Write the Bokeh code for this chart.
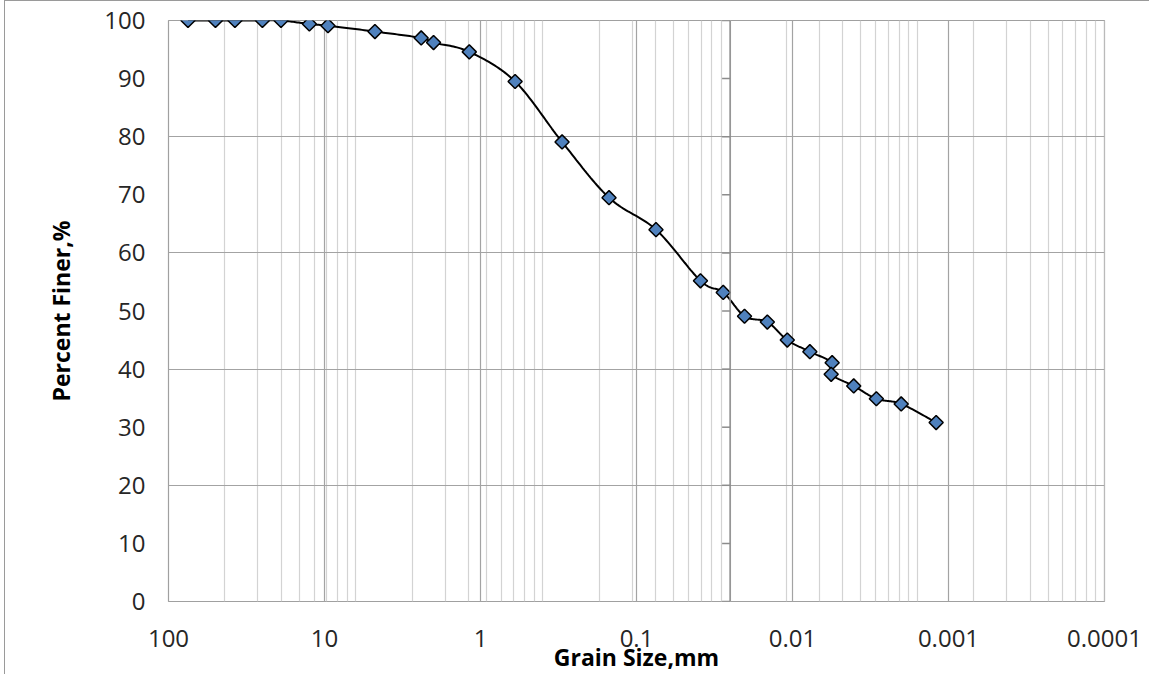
import math
import numpy as np
from bokeh.plotting import figure
from bokeh.models import Range1d, FixedTicker, CustomJSTickFormatter, Span
from bokeh.embed import file_html
from bokeh.resources import INLINE

# ---- data ----
grain_size_mm = [75, 50, 37.5, 25, 19, 12.5, 9.5, 4.75, 2.4, 2.0, 1.18, 0.6, 0.3,
                 0.15, 0.075, 0.0389, 0.0278, 0.0203, 0.0145, 0.0108, 0.00774,
                 0.00557, 0.00565, 0.00405, 0.0029, 0.00201, 0.0012]
percent_finer = [100, 100, 100, 100, 100, 99.4, 99.1, 98.1, 97.0, 96.2, 94.6, 89.5,
                 79.1, 69.5, 64.0, 55.2, 53.2, 49.1, 48.1, 45.0, 43.0, 41.1, 39.1,
                 37.1, 34.9, 34.0, 30.8]
x_ticks = [100, 10, 1, 0.1, 0.01, 0.001, 0.0001]
y_ticks = [0, 10, 20, 30, 40, 50, 60, 70, 80, 90, 100]
y_grid_ticks = [0, 20, 40, 60, 80, 100]

# ---- layout geometry ----
PX_PER_DECADE = 156.0
PX_PER_UNIT = 5.82


def smooth_curve(xs, ys, n=24):
    """Excel-like smoothed line (Catmull-Rom Bezier in screen space)."""
    P = np.column_stack([np.log10(xs) * PX_PER_DECADE, np.array(ys) * PX_PER_UNIT])
    out = []
    for i in range(len(P) - 1):
        p0 = P[i - 1] if i > 0 else P[i]
        p1, p2 = P[i], P[i + 1]
        p3 = P[i + 2] if i + 2 < len(P) else P[i + 1]
        c1 = p1 + (p2 - p0) / 6.0
        c2 = p2 - (p3 - p1) / 6.0
        t = np.linspace(0, 1, n)[:, None]
        seg = (1 - t) ** 3 * p1 + 3 * (1 - t) ** 2 * t * c1 + 3 * (1 - t) * t ** 2 * c2 + t ** 3 * p2
        out.append(seg if i == 0 else seg[1:])
    pts = np.vstack(out)
    return 10 ** (pts[:, 0] / PX_PER_DECADE), pts[:, 1] / PX_PER_UNIT


# minor vertical gridlines: a 5-decade log grid spread over the 6-decade axis
span_dec = math.log10(x_ticks[0] / x_ticks[-1])
minor_x = []
for d in range(5):
    for k in range(2, 11):
        f = (d + math.log10(k)) / 5.0
        minor_x.append(x_ticks[0] * 10 ** (-span_dec * f))
axis_cross = x_ticks[0] * 10 ** (-span_dec * 3 / 5.0)

p = figure(width=1145, height=674, x_axis_type="log",
           x_range=Range1d(x_ticks[0], x_ticks[-1]), y_range=Range1d(0, 100),
           output_backend="svg", toolbar_location=None,
           min_border_left=163, min_border_right=46, min_border_top=19, min_border_bottom=66)
p.margin = (0, 0, 0, 4)
p.styles = {"border-top": "1px solid #9a9a9a", "border-left": "1px solid #9a9a9a"}

p.outline_line_color = "#a0a0a0"
p.outline_line_width = 1.2

# x axis
p.xaxis.ticker = FixedTicker(ticks=x_ticks, minor_ticks=minor_x)
p.xaxis.formatter = CustomJSTickFormatter(code="return tick.toString();")
p.xgrid.ticker = FixedTicker(ticks=x_ticks, minor_ticks=minor_x)
p.xgrid.grid_line_color = "#a3a3a3"
p.xgrid.grid_line_width = 1.2
p.xgrid.minor_grid_line_color = "#d3d3d3"
p.xgrid.minor_grid_line_width = 1.2

# y axis
p.yaxis.ticker = FixedTicker(ticks=y_ticks)
p.ygrid.ticker = FixedTicker(ticks=y_grid_ticks)
p.ygrid.grid_line_color = "#a3a3a3"
p.ygrid.grid_line_width = 1.2

for ax in (p.xaxis[0], p.yaxis[0]):
    ax.axis_line_color = None
    ax.major_tick_in = 0
    ax.major_tick_out = 0
    ax.minor_tick_in = 0
    ax.minor_tick_out = 0
    ax.major_label_text_font = "Open Sans"
    ax.major_label_text_font_size = "24px"
    ax.major_label_text_color = "#262626"
    ax.axis_label_text_font = "Open Sans"
    ax.axis_label_text_font_size = "23px"
    ax.axis_label_text_font_style = "bold"
    ax.axis_label_text_color = "#000000"

p.xaxis.axis_label = "Grain Size,mm"
p.xaxis.major_label_standoff = 28
p.xaxis.axis_label_standoff = -9
p.yaxis.axis_label = "Percent Finer,%"
p.yaxis.major_label_standoff = 23
p.yaxis.axis_label_standoff = 24

# vertical axis line crossing inside the plot, with its tick marks
p.add_layout(Span(location=axis_cross, dimension="height", line_color="#8c8c8c", line_width=1.5))
p.segment(x0=[axis_cross] * len(y_ticks), x1=[axis_cross * 10 ** (8 / PX_PER_DECADE)] * len(y_ticks),
          y0=y_ticks, y1=y_ticks, line_color="#8c8c8c", line_width=1.5)

# smoothed line + diamond markers
sx, sy = smooth_curve(grain_size_mm, percent_finer)
p.line(sx, sy, line_color="black", line_width=2)
p.scatter(grain_size_mm, percent_finer, marker="square", size=10, angle=math.pi / 4,
          fill_color="#4F81BD", line_color="black", line_width=1.5)

open("out.html", "w").write(file_html(p, INLINE))
